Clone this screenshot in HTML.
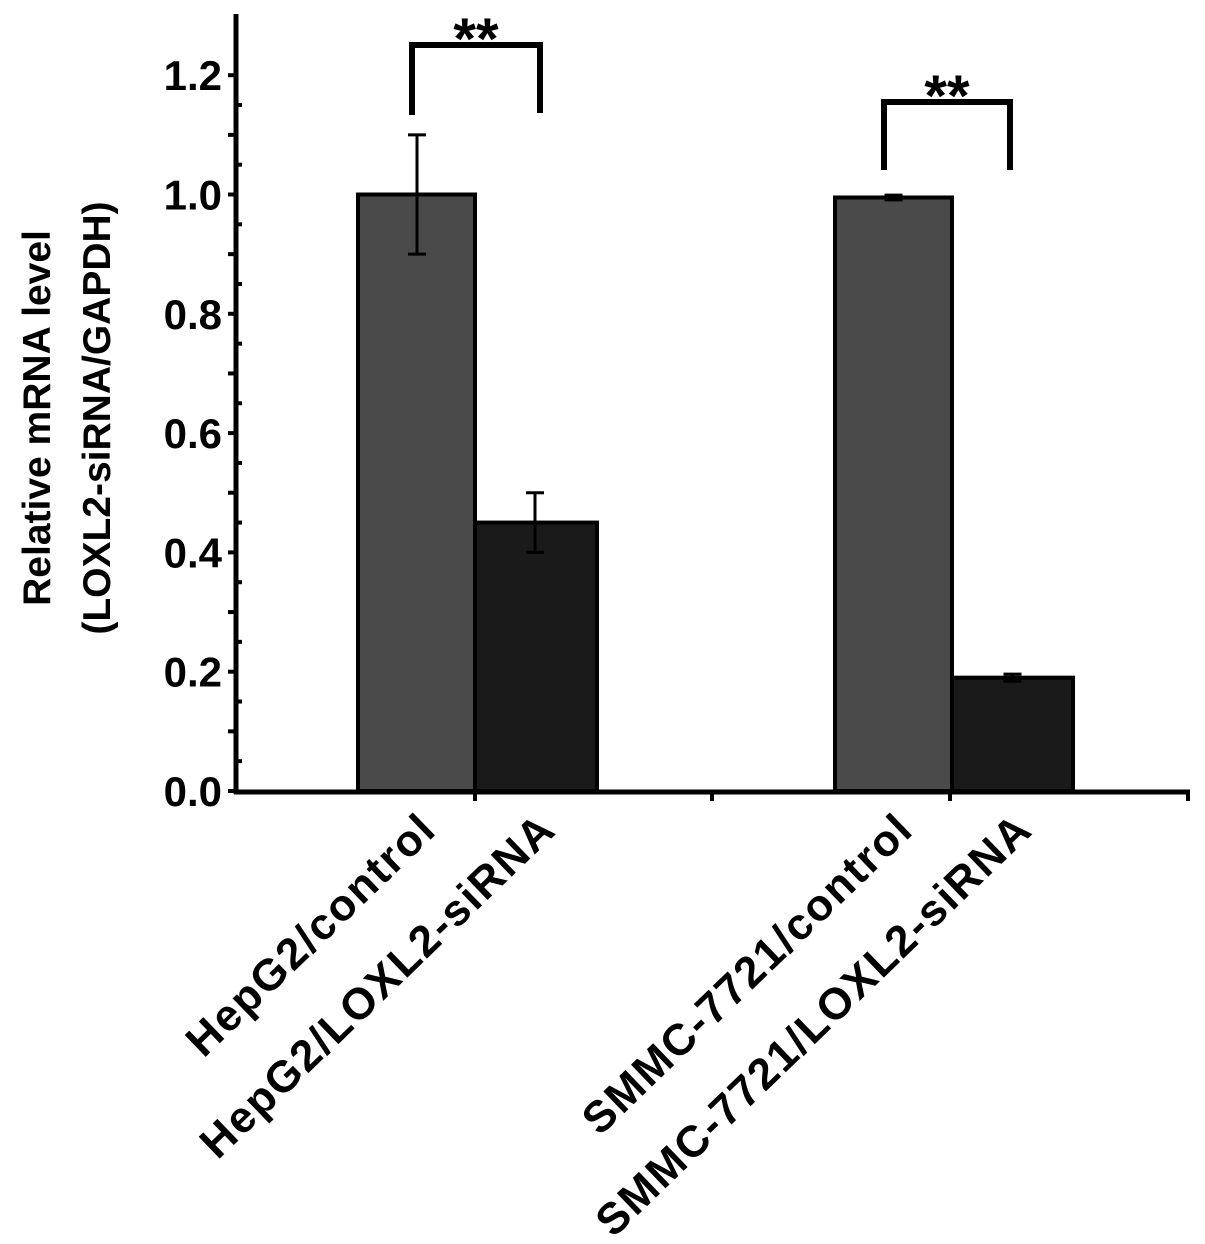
<!DOCTYPE html>
<html><head><meta charset="utf-8"><style>
html,body{margin:0;padding:0;background:#fff;}
svg{display:block;font-family:"Liberation Sans",Arial,sans-serif;font-weight:bold;}
</style></head><body>
<svg id="chart" width="1205" height="1244" viewBox="0 0 1205 1244" xmlns="http://www.w3.org/2000/svg">
<g id="axes"></g>
<g id="bars"></g>
<g id="labels"></g>
<text transform="translate(50,418) rotate(-90)" text-anchor="middle" font-size="39">Relative mRNA level</text>
<text transform="translate(110,418) rotate(-90)" text-anchor="middle" font-size="39">(LOXL2-siRNA/GAPDH)</text>
</svg>
<script>
const categories=["HepG2/control","HepG2/LOXL2-siRNA","SMMC-7721/control","SMMC-7721/LOXL2-siRNA"];
const values=[1.0,0.45,0.995,0.19];
const errors=[0.1,0.05,0.004,0.006];
const yTicks=[0,0.2,0.4,0.6,0.8,1.0,1.2];
const yTickLabels=["0.0","0.2","0.4","0.6","0.8","1.0","1.2"];
const sigLabels=["**","**"];

const NS="http://www.w3.org/2000/svg";
const y0=791, pxPerUnit=596.5;
function y(v){return y0-v*pxPerUnit;}
const barLeft=[358,475,835,952], barW=[117,122,117,121];
const colors=["#4a4a4a","#1a1a1a","#4a4a4a","#1a1a1a"];
function mk(tag,attrs,parent){const e=document.createElementNS(NS,tag);for(const k in attrs)e.setAttribute(k,attrs[k]);parent.appendChild(e);return e;}
const axes=document.getElementById('axes'),bars=document.getElementById('bars'),labels=document.getElementById('labels');

let l=mk('line',{x1:236,y1:14,x2:236,y2:794,stroke:'#000','stroke-width':5},axes);


l=mk('line',{x1:234,y1:792,x2:1190,y2:792,stroke:'#000','stroke-width':5},axes);


[475,712,950,1188].forEach(x=>{const t=mk('line',{x1:x,y1:792,x2:x,y2:801,stroke:'#000','stroke-width':4},axes);

});
for(let v=0;v<=1.25;v+=0.05){const major=Math.round(v*100)%10===0;
const t=mk('line',{x1:major?228:236,y1:y(v),x2:major?236:242,y2:y(v),stroke:'#000','stroke-width':4},axes);

}
yTicks.forEach((v,i)=>{const t=mk('text',{x:222,y:y(v)+15,'text-anchor':'end','font-size':42},axes);t.textContent=yTickLabels[i];

});

values.forEach((v,i)=>{const r=mk('rect',{x:barLeft[i],y:y(v),width:barW[i],height:y0-y(v),fill:colors[i],stroke:'#000','stroke-width':4},bars);


const cx=barLeft[i]+barW[i]/2;
const ex=i===0?417:i===1?535:cx;
const e=mk('path',{d:`M${ex},${y(v+errors[i])}V${y(v-errors[i])}M${ex-9},${y(v+errors[i])}h18M${ex-9},${y(v-errors[i])}h18`,stroke:'#000','stroke-width':3,fill:'none'},bars);


const tx=barLeft[i]+barW[i]/2+22, ty=832;
const t=mk('text',{transform:`translate(${tx},${ty}) rotate(-44)`,'text-anchor':'end','font-size':44,'letter-spacing':1.8},labels);
t.textContent=categories[i];

});

const brackets=[[412,540,45,115,113],[884,1010,102,170,170]];
brackets.forEach((b,i)=>{const p=mk('path',{d:`M${b[0]},${b[3]}V${b[2]}H${b[1]}V${b[4]}`,stroke:'#000','stroke-width':6,fill:'none'},bars);


const t=mk('text',{x:(b[0]+b[1])/2,y:b[2]+14,'text-anchor':'middle','font-size':58},bars);t.textContent=sigLabels[i];

});
</script>
</body></html>
